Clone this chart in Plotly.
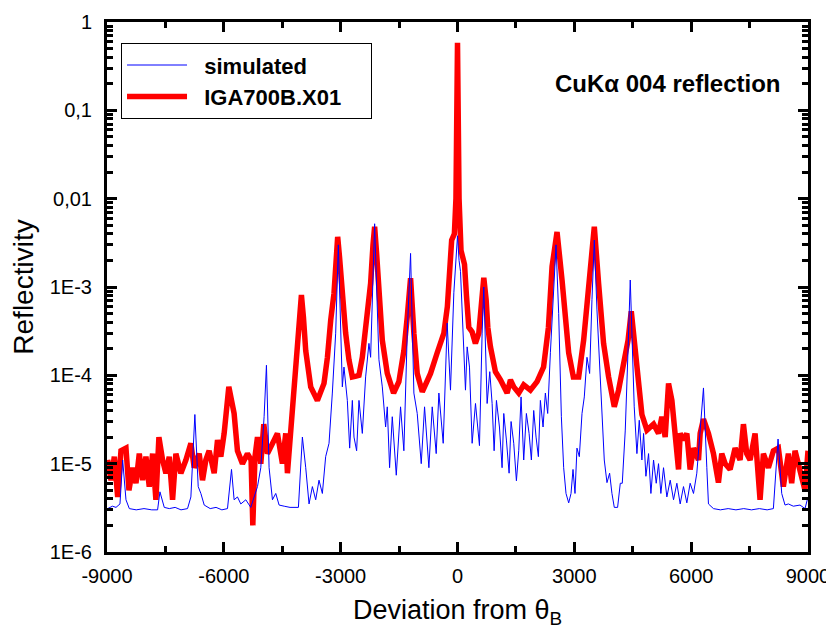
import plotly.graph_objects as go

# ---------------- data ----------------
meas_x = [-8982, -8897, -8812, -8726, -8641, -8513, -8436, -8341, -8256, -8171, -8085, -8000,
          -7915, -7829, -7744, -7667, -7573, -7487, -7402, -7316, -7231, -7103, -6974, -6846,
          -6761, -6633, -6547, -6462, -6377, -6248, -6162, -6077, -5992, -5930, -5872, -5736,
          -5650, -5522, -5394, -5300, -5256, -5200, -5136, -5051, -4974, -4880, -4752, -4624,
          -4496, -4410, -4367, -4282, -4200, -4069, -4008, -3955, -3897, -3769, -3598, -3428,
          -3340, -3256, -3171, -3110, -3077, -3030, -2957, -2872, -2787, -2700, -2600, -2530,
          -2444, -2316, -2231, -2170, -2128, -2080, -2017, -1931, -1803, -1641, -1505, -1377,
          -1290, -1205, -1120, -1034, -905, -800, -692, -521, -350, -260, -200, -150, -80, -40,
          0, 40, 90, 180, 230, 290, 376, 460, 547, 607, 675, 735, 778, 846, 974, 1103, 1274,
          1359, 1444, 1572, 1700, 1872, 2043, 2210, 2335, 2428, 2556, 2684, 2770, 2855, 2975,
          3111, 3239, 3367, 3513, 3623, 3751, 3880, 4026, 4136, 4265, 4380, 4462, 4564, 4650,
          4735, 4864, 5034, 5162, 5248, 5333, 5419, 5505, 5590, 5675, 5718, 5803, 5889, 5974,
          6060, 6188, 6231, 6316, 6444, 6572, 6700, 6786, 6872, 7000, 7128, 7256, 7342, 7427,
          7513, 7641, 7769, 7855, 7983, 8111, 8239, 8367, 8496, 8581, 8667, 8795, 8923, 9000]
meas_y = [1.1e-5, 6.5e-6, 1.2e-5, 4.2e-6, 1.4e-5, 1.5e-5, 5e-6, 9e-6, 6e-6, 1.3e-5, 6.5e-6, 1.2e-5,
          5.5e-6, 1.3e-5, 3.9e-6, 2e-5, 1.1e-5, 7.8e-6, 1.2e-5, 3.9e-6, 1.3e-5, 7.8e-6, 1.1e-5, 1.7e-5,
          9e-6, 1.3e-5, 6.5e-6, 1.1e-5, 1.4e-5, 7.8e-6, 1.85e-5, 1.2e-5, 2.2e-5, 4.5e-5, 7.4e-5, 3.7e-5,
          1.4e-5, 1e-5, 1.3e-5, 1.1e-5, 2e-6, 1.2e-5, 2e-5, 1e-5, 2.8e-5, 1.3e-5, 1.7e-5, 2.2e-5,
          1e-5, 2.2e-5, 7.8e-6, 2.6e-5, 7.4e-5, 3.3e-4, 8.1e-4, 4.5e-4, 1.9e-4, 7.4e-5, 5.2e-5, 8.1e-5,
          1.6e-4, 4.2e-4, 8.5e-4, 2.2e-3, 3.7e-3, 2.2e-3, 7.2e-4, 3e-4, 1.5e-4, 9.6e-5, 9.8e-5, 1e-4,
          1.6e-4, 5.9e-4, 1.1e-3, 3e-3, 4.8e-3, 2.5e-3, 7.1e-4, 2.5e-4, 1.05e-4, 6.3e-5, 8.5e-5, 1.9e-4,
          4.6e-4, 1.26e-3, 3e-4, 1.05e-4, 6.5e-5, 8e-5, 1.05e-4, 1.8e-4, 3e-4, 6e-4, 1.7e-3, 3.4e-3, 4e-3, 1e-2,
          0.58, 1e-2, 2.6e-3, 1.8e-3, 8e-4, 3.5e-4, 3.1e-4, 2.3e-4, 3e-4, 7.2e-4, 1.27e-3, 7.2e-4, 3.5e-4, 2.1e-4, 1.1e-4, 8.9e-5, 6.3e-5,
          8.9e-5, 7.4e-5, 6.3e-5, 7.8e-5, 6.8e-5, 8.5e-5, 1.24e-4, 3.5e-4, 1.7e-3, 4.2e-3, 1.2e-3, 4.6e-4, 1.8e-4, 9.6e-5,
          9.6e-5, 2.5e-4, 1.1e-3, 4.8e-3, 1.1e-3, 2.3e-4, 9.6e-5, 4.4e-5, 6.8e-5, 1.24e-4, 2.5e-4, 5.3e-4, 1.9e-4, 7.4e-5,
          3.6e-5, 2.4e-5, 2.8e-5, 2.2e-5, 3.4e-5, 2e-5, 8.1e-5, 5.2e-5, 2.4e-5, 8.6e-6, 2.2e-5, 1.85e-5, 2.2e-5, 8.6e-6,
          1.5e-5, 1.1e-5, 2.2e-5, 3.2e-5, 2.2e-5, 1.3e-5, 6.1e-6, 1.3e-5, 1e-5, 8.6e-6, 1.5e-5, 1.1e-5, 2.8e-5, 1.3e-5,
          1.1e-5, 2.2e-5, 3.9e-6, 1.3e-5, 9e-6, 1.4e-5, 1.5e-5, 5.5e-6, 1.3e-5, 6e-6, 1.4e-5, 7.8e-6, 5e-6, 1.4e-5]

sim_x = [-8982, -8860, -8769, -8667, -8598, -8513, -8427, -8250, -8050, -7850, -7701, -7641,
         -7530, -7400, -7250, -7100, -6932, -6846, -6744, -6658, -6590, -6504, -6350, -6200,
         -6050, -5906, -5803, -5736, -5650, -5564, -5436, -5308, -5136, -5051, -4966, -4906,
         -4838, -4752, -4667, -4581, -4450, -4300, -4085, -3983, -3897, -3812, -3726, -3641,
         -3556, -3470, -3385, -3299, -3214, -3128, -3060, -2957, -2915, -2829, -2769, -2700,
         -2658, -2590, -2530, -2444, -2359, -2274, -2231, -2128, -2017, -1931, -1846, -1803,
         -1744, -1675, -1572, -1462, -1377, -1290, -1205, -1120, -1034, -931, -846, -735,
         -649, -547, -478, -367, -265, -180, -94, -40, 0, 40, 77, 205, 248, 308, 376, 462,
         504, 564, 632, 675, 761, 829, 889, 940, 1000, 1077, 1145, 1188, 1256, 1325, 1376,
         1444, 1513, 1572, 1632, 1700, 1769, 1838, 1897, 1957, 2017, 2077, 2128, 2197, 2256,
         2316, 2385, 2444, 2530, 2598, 2667, 2726, 2786, 2855, 2915, 2966, 3017, 3068, 3128,
         3197, 3256, 3325, 3393, 3453, 3513, 3581, 3650, 3709, 3769, 3838, 3906, 3966, 4026,
         4111, 4180, 4231, 4308, 4380, 4436, 4538, 4607, 4667, 4735, 4778, 4838, 4906, 4966,
         5034, 5103, 5162, 5222, 5290, 5376, 5462, 5547, 5633, 5718, 5803, 5889, 5974, 6060,
         6145, 6231, 6316, 6402, 6444, 6572, 6750, 6950, 7150, 7350, 7550, 7750, 7950, 8111,
         8154, 8231, 8325, 8410, 8496, 8624, 8795, 8923, 9000]
sim_y = [3.1e-6, 3.3e-6, 3.2e-6, 3.5e-6, 1.1e-5, 3.9e-6, 3.1e-6, 3.0e-6, 3.1e-6, 3.0e-6, 3.0e-6, 4.8e-6,
         3.2e-6, 3.1e-6, 3.2e-6, 3.0e-6, 3.1e-6, 4.2e-6, 3.6e-5, 5.5e-6, 4.6e-6, 3.4e-6, 3.1e-6, 3.2e-6,
         3.0e-6, 3.1e-6, 8.6e-6, 3.9e-6, 4.2e-6, 3.5e-6, 3.9e-6, 3.2e-6, 5.5e-6, 9e-6, 3.4e-5, 1.3e-4,
         9e-6, 3.9e-6, 4.6e-6, 3.4e-6, 3.3e-6, 3.2e-6, 3.2e-6, 2e-5, 9e-6, 3.5e-6, 5.5e-6, 3.9e-6,
         6.5e-6, 4.6e-6, 1.2e-5, 1.7e-5, 6.3e-5, 3e-4, 3e-3, 7.4e-5, 1.24e-4, 5.2e-5, 1.5e-5, 5.2e-5,
         2e-5, 1.4e-5, 5.2e-5, 2.2e-5, 9.6e-5, 2.3e-4, 1.6e-4, 5.2e-3, 1.5e-4, 7.4e-5, 2.6e-5, 4.4e-5,
         9e-6, 3.4e-5, 7.4e-6, 4.4e-5, 1.4e-5, 3e-4, 2.4e-3, 6.3e-5, 3.7e-5, 1e-5, 4.4e-5, 9e-6,
         4.4e-5, 1.3e-5, 6.3e-5, 1.7e-5, 3.9e-4, 6.8e-5, 8.6e-4, 2e-3, 3.8e-3, 2e-3, 1.5e-3, 6.8e-5, 2.1e-4, 1.24e-4, 1.7e-5, 4.8e-5,
         3.1e-5, 1.6e-5, 3e-4, 1e-3, 4.8e-5, 1.1e-4, 4.8e-5, 1.4e-5, 5.2e-5, 2.6e-5, 9e-6, 3.7e-5, 1.85e-5, 7.8e-6, 3e-5,
         1.7e-5, 6.4e-6, 1.4e-5, 5.7e-5, 1.1e-5, 3.7e-5, 2.2e-5, 1.1e-5, 4e-5, 2e-5, 1.2e-5, 5.2e-5, 2.6e-5, 6.3e-5,
         3.7e-5, 1.8e-4, 5e-4, 3e-3, 5e-4, 3.4e-5, 9e-6, 4.6e-6, 3.6e-6, 4.6e-6, 8.6e-6, 4.6e-6, 1.5e-5, 1.2e-5,
         3.7e-5, 5.7e-5, 1.6e-4, 1.05e-4, 7.2e-4, 3.4e-3, 5.5e-4, 1.35e-4, 4e-5, 1.1e-5, 6.1e-6, 7.8e-6, 4.6e-6, 3.2e-6,
         3.2e-6, 6e-6, 6e-6, 2.4e-5, 2e-4, 1.2e-3, 4.4e-5, 1.3e-5, 3.1e-5, 1.1e-5, 2.2e-5, 7.2e-6, 1.3e-5, 4.6e-6,
         1.1e-5, 6e-6, 1e-5, 4.6e-6, 9e-6, 4.2e-6, 6.5e-6, 3.9e-6, 6e-6, 3.5e-6, 5.5e-6, 3.6e-6, 6e-6, 4.6e-6,
         7.8e-6, 2.2e-5, 7.2e-5, 9e-6, 3.5e-6, 3.1e-6, 3.0e-6, 3.1e-6, 3.0e-6, 3.1e-6, 3.0e-6, 3.1e-6, 3.0e-6, 3.1e-6,
         6e-6, 1.9e-5, 4.6e-6, 3.4e-6, 3.5e-6, 3.3e-6, 3.4e-6, 3.1e-6, 4.2e-6]

x_ticks = [-9000, -6000, -3000, 0, 3000, 6000, 9000]
x_labels = ["-9000", "-6000", "-3000", "0", "3000", "6000", "9000"]
y_ticks = [1e-6, 1e-5, 1e-4, 1e-3, 1e-2, 1e-1, 1]
y_labels = ["1E-6", "1E-5", "1E-4", "1E-3", "0,01", "0,1", "1"]

FONT = "Liberation Sans, Arial, Helvetica, sans-serif"
NB = "\u00a0"  # spacing used to widen the legend box like the reference

fig = go.Figure()
fig.add_trace(go.Scatter(x=meas_x, y=meas_y, mode="lines", name=NB * 2 + "IGA700B.X01" + NB * 4,
                         line=dict(color="#ff0000", width=5.5)))
fig.add_trace(go.Scatter(x=sim_x, y=sim_y, mode="lines", name=NB * 2 + "simulated",
                         line=dict(color="#0000ff", width=1)))

axis_common = dict(showline=True, linewidth=3, linecolor="black", mirror="ticks",
                   ticks="inside", ticklen=10, tickwidth=3, tickcolor="black",
                   showgrid=False, zeroline=False, automargin=False,
                   tickfont=dict(family=FONT, size=20, color="black"))

fig.update_xaxes(range=[-9000, 9000], tickvals=x_ticks, ticktext=x_labels,
                 minor=dict(ticks="inside", ticklen=6, tickwidth=3, tickcolor="black",
                            dtick=1500, tick0=0, showgrid=False),
                 title=dict(text="Deviation from θ<sub>B</sub>", font=dict(family=FONT, size=27, color="black"),
                            standoff=15),
                 ticklabelstandoff=4,
                 **axis_common)
fig.update_yaxes(type="log", range=[-6, 0], tickvals=y_ticks, ticktext=y_labels,
                 minor=dict(ticks="inside", ticklen=6, tickwidth=3, tickcolor="black",
                            dtick="D1", showgrid=False),
                 title=dict(text="Reflectivity", font=dict(family=FONT, size=28, color="black"),
                            standoff=14),
                 ticklabelstandoff=8,
                 **axis_common)

fig.add_annotation(x=0.963, y=0.884, xref="paper", yref="paper", xanchor="right", yanchor="middle",
                   text="<b>CuKα 004 reflection</b>", showarrow=False,
                   font=dict(family=FONT, size=24, color="black"))

# the page adds an 8 px body margin, so the plot area is offset accordingly
fig.update_layout(
    width=834, height=629,
    margin=dict(l=99, r=34, t=14, b=85),
    paper_bgcolor="white", plot_bgcolor="white",
    font=dict(family=FONT, color="black"),
    showlegend=True,
    legend=dict(x=0.02, y=0.96, xanchor="left", yanchor="top", traceorder="reversed",
                bgcolor="white", bordercolor="black", borderwidth=1,
                font=dict(family=FONT, size=22, color="black", weight="bold"),
                itemwidth=60, tracegroupgap=0),
)

fig.write_html("out.html")
